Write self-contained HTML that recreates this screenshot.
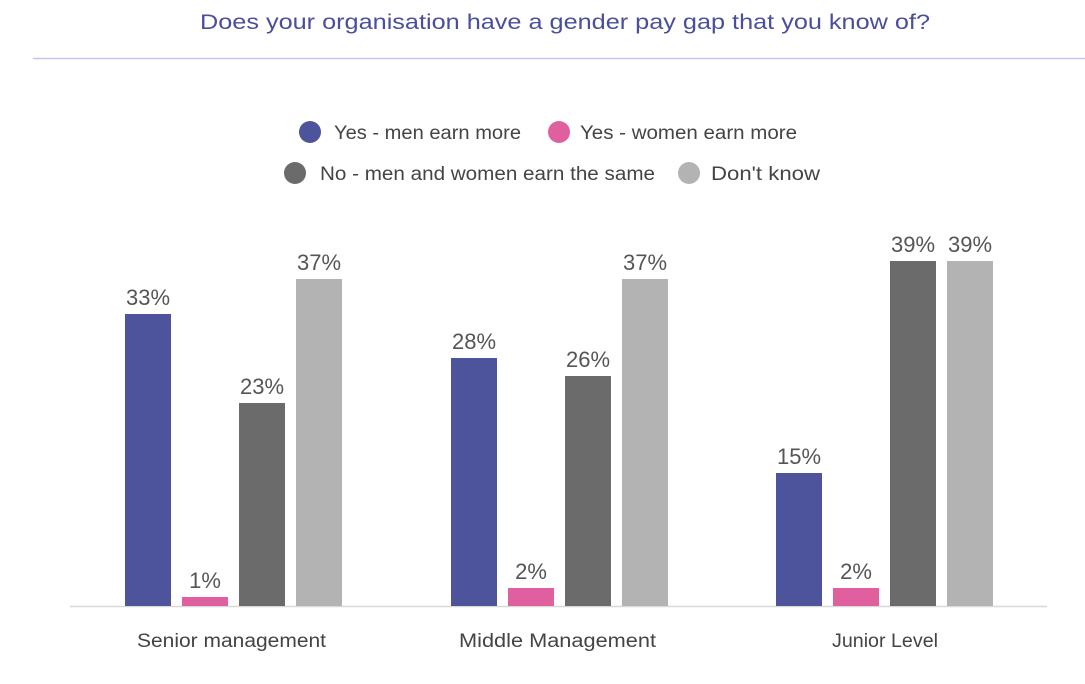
<!DOCTYPE html>
<html><head><meta charset="utf-8"><style>
body{margin:0;background:#fff;width:1085px;height:679px;overflow:hidden}
svg text{font-family:"Liberation Sans",sans-serif}
</style></head><body>
<svg width="1085" height="679" xmlns="http://www.w3.org/2000/svg">
<text x="200" y="29" textLength="730" lengthAdjust="spacingAndGlyphs" font-size="21" fill="#4a4e9c">Does your organisation have a gender pay gap that you know of?</text>
<line x1="33" y1="58.5" x2="1085" y2="58.5" stroke="#c9c6e2" stroke-width="1.5"/>
<g font-size="19" fill="#444">
<circle cx="310" cy="132" r="11" fill="#4d549c"/><text x="334" y="139" textLength="187" lengthAdjust="spacingAndGlyphs">Yes - men earn more</text>
<circle cx="559" cy="132" r="11" fill="#e0609f"/><text x="580" y="139" textLength="217" lengthAdjust="spacingAndGlyphs">Yes - women earn more</text>
<circle cx="295" cy="173" r="11" fill="#6b6b6b"/><text x="320" y="180" textLength="335" lengthAdjust="spacingAndGlyphs">No - men and women earn the same</text>
<circle cx="689" cy="173" r="11" fill="#b3b3b3"/><text x="711" y="180" textLength="109" lengthAdjust="spacingAndGlyphs">Don't know</text>
</g>
<line x1="70" y1="606.5" x2="1047" y2="606.5" stroke="#d8d8d8" stroke-width="1.5"/>
<g>
<rect x="125" y="314" width="46" height="292" fill="#4d549c"/>
<rect x="182" y="597" width="46" height="9" fill="#e0609f"/>
<rect x="239" y="403" width="46" height="203" fill="#6b6b6b"/>
<rect x="296" y="279" width="46" height="327" fill="#b3b3b3"/>
<rect x="451" y="358" width="46" height="248" fill="#4d549c"/>
<rect x="508" y="588" width="46" height="18" fill="#e0609f"/>
<rect x="565" y="376" width="46" height="230" fill="#6b6b6b"/>
<rect x="622" y="279" width="46" height="327" fill="#b3b3b3"/>
<rect x="776" y="473" width="46" height="133" fill="#4d549c"/>
<rect x="833" y="588" width="46" height="18" fill="#e0609f"/>
<rect x="890" y="261" width="46" height="345" fill="#6b6b6b"/>
<rect x="947" y="261" width="46" height="345" fill="#b3b3b3"/>
</g>
<g font-size="22" fill="#555" text-anchor="middle">
<text x="148" y="305">33%</text><text x="205" y="588">1%</text><text x="262" y="394">23%</text><text x="319" y="270">37%</text>
<text x="474" y="349">28%</text><text x="531" y="579">2%</text><text x="588" y="367">26%</text><text x="645" y="270">37%</text>
<text x="799" y="464">15%</text><text x="856" y="579">2%</text><text x="913" y="252">39%</text><text x="970" y="252">39%</text>
</g>
<g font-size="19" fill="#444">
<text x="137" y="647" textLength="189" lengthAdjust="spacingAndGlyphs">Senior management</text>
<text x="459" y="647" textLength="197" lengthAdjust="spacingAndGlyphs">Middle Management</text>
<text x="832" y="647" textLength="106" lengthAdjust="spacingAndGlyphs">Junior Level</text>
</g>
</svg>
</body></html>
